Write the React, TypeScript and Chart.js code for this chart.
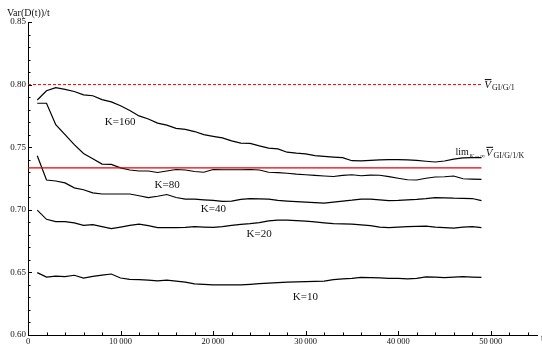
import React, { useEffect, useRef } from "react";
import { Chart, registerables } from "chart.js";

Chart.register(...registerables);

const times = [
  1000, 2000, 3000, 4000, 5000, 6000, 7000, 8000, 9000, 10000,
  11000, 12000, 13000, 14000, 15000, 16000, 17000, 18000, 19000, 20000,
  21000, 22000, 23000, 24000, 25000, 26000, 27000, 28000, 29000, 30000,
  31000, 32000, 33000, 34000, 35000, 36000, 37000, 38000, 39000, 40000,
  41000, 42000, 43000, 44000, 45000, 46000, 47000, 48000, 49000,
];

const k160 = [
  0.7877, 0.7951, 0.7975, 0.7962, 0.7945, 0.7918, 0.7911, 0.788, 0.7862, 0.7831,
  0.7793, 0.775, 0.7725, 0.7692, 0.7676, 0.7651, 0.7643, 0.7625, 0.76, 0.7587,
  0.7575, 0.755, 0.7532, 0.753, 0.751, 0.7493, 0.7486, 0.746, 0.7452, 0.7446,
  0.7432, 0.7426, 0.7421, 0.7417, 0.7392, 0.739, 0.7394, 0.7398, 0.74, 0.74,
  0.7398, 0.7395, 0.7388, 0.7382, 0.739, 0.7405, 0.7414, 0.7416, 0.7416,
];

const k80 = [
  0.7851, 0.7851, 0.768, 0.76, 0.752, 0.745, 0.7408, 0.7365, 0.7363, 0.7335,
  0.7318, 0.731, 0.731, 0.7298, 0.731, 0.7322, 0.7318, 0.7306, 0.73, 0.7322,
  0.732, 0.732, 0.732, 0.7322, 0.7318, 0.73, 0.7297, 0.7292, 0.7285, 0.728,
  0.7275, 0.727, 0.7266, 0.7275, 0.728, 0.7272, 0.7277, 0.7276, 0.7265, 0.7252,
  0.724, 0.7238, 0.7252, 0.7262, 0.7264, 0.727, 0.7248, 0.7245, 0.7243,
];

const k40 = [
  0.7432, 0.7238, 0.723, 0.7215, 0.7175, 0.716, 0.7135, 0.7126, 0.7126, 0.7126,
  0.7126, 0.7112, 0.7098, 0.7108, 0.7122, 0.7098, 0.7086, 0.7086, 0.708, 0.7075,
  0.7067, 0.707, 0.7083, 0.709, 0.7088, 0.7085, 0.7075, 0.707, 0.7066, 0.7062,
  0.7057, 0.7053, 0.7062, 0.707, 0.7077, 0.7086, 0.7085, 0.708, 0.7074, 0.7076,
  0.708, 0.7084, 0.709, 0.7098, 0.7096, 0.7093, 0.7092, 0.709, 0.7073,
];

const k20 = [
  0.6998, 0.6924, 0.6905, 0.6905, 0.6895, 0.6875, 0.6882, 0.6866, 0.685, 0.6862,
  0.6875, 0.6886, 0.6873, 0.6858, 0.6857, 0.6857, 0.686, 0.6865, 0.6862, 0.686,
  0.6866, 0.6876, 0.6884, 0.689, 0.6898, 0.6912, 0.6918, 0.6918, 0.6914, 0.691,
  0.6903, 0.6896, 0.689, 0.6887, 0.6885, 0.6879, 0.6873, 0.6862, 0.6858, 0.6862,
  0.6865, 0.6868, 0.687, 0.6862, 0.6857, 0.6853, 0.6862, 0.6865, 0.6857,
];

const k10 = [
  0.6498, 0.6463, 0.647, 0.6466, 0.6477, 0.6455, 0.6468, 0.6478, 0.6487, 0.6455,
  0.6445, 0.6442, 0.6439, 0.6432, 0.6438, 0.643, 0.6422, 0.6408, 0.6404, 0.64,
  0.64, 0.64, 0.64, 0.6405, 0.641, 0.6415, 0.6419, 0.6422, 0.6425, 0.6426,
  0.6428, 0.6431, 0.6443, 0.6448, 0.6453, 0.646, 0.6459, 0.6457, 0.6453, 0.6452,
  0.6449, 0.6453, 0.6464, 0.6462, 0.6458, 0.6463, 0.6466, 0.6463, 0.6461,
];

const vBar = 0.8; // V̄_GI/G/1
const vLim = 0.7335; // lim K->inf V̄_GI/G/1/K
const refLineEnd = 49000;

const xTicks = [0, 10000, 20000, 30000, 40000, 50000];
const xTickLabels = ["0", "10\u2009000", "20\u2009000", "30\u2009000", "40\u2009000", "50\u2009000"];
const yTicks = [0.6, 0.65, 0.7, 0.75, 0.8, 0.85];
const yTickLabels = ["0.60", "0.65", "0.70", "0.75", "0.80", "0.85"];

const curveLabels = ["K=160", "K=80", "K=40", "K=20", "K=10"];
const curveLabelX = [8300, 13680, 18680, 23620, 28620];
const curveLabelY = [0.7704, 0.7198, 0.7004, 0.6807, 0.6301];

const SERIF = "'Liberation Serif', 'Times New Roman', serif";
const RED = "rgb(230,0,0)";

const toXY = (ys: number[]) => ys.map((y, i) => ({ x: times[i], y }));

const decorPlugin = {
  id: "decor",
  afterDatasetsDraw(chart: any) {
    const ctx = chart.ctx as CanvasRenderingContext2D;
    const xs = chart.scales.x;
    const ys = chart.scales.y;
    const area = chart.chartArea;
    ctx.save();
    ctx.strokeStyle = "#000";
    ctx.lineWidth = 1;
    // inward ticks on x axis
    for (let v = 0; v <= 54000; v += 2000) {
      const px = Math.round(xs.getPixelForValue(v)) + 0.5;
      const len = v % 10000 === 0 ? 4 : 2.5;
      ctx.beginPath();
      ctx.moveTo(px, area.bottom);
      ctx.lineTo(px, area.bottom - len);
      ctx.stroke();
    }
    // inward ticks on y axis
    for (let i = 0; i <= 25; i++) {
      const v = 0.6 + i * 0.01;
      const py = Math.round(ys.getPixelForValue(v)) + 0.5;
      const len = i % 5 === 0 ? 4 : 2.5;
      ctx.beginPath();
      ctx.moveTo(area.left, py);
      ctx.lineTo(area.left + len, py);
      ctx.stroke();
    }

    ctx.fillStyle = "#111";
    ctx.textBaseline = "middle";
    ctx.textAlign = "left";
    // axis titles
    ctx.font = `10px ${SERIF}`;
    ctx.fillText("Var(D(t))/t", 7, 13);
    ctx.fillText("t", 541, 338);

    // curve labels
    ctx.font = `11px ${SERIF}`;
    curveLabels.forEach((lab, i) => {
      ctx.fillText(lab, xs.getPixelForValue(curveLabelX[i]), ys.getPixelForValue(curveLabelY[i]));
    });

    // V̄ with subscript
    const drawVbar = (x: number, y: number, sub: string) => {
      ctx.font = `italic 11px ${SERIF}`;
      ctx.fillText("V", x, y);
      const w = ctx.measureText("V").width;
      ctx.beginPath();
      ctx.moveTo(x + 0.5, y - 5.5);
      ctx.lineTo(x + w + 0.5, y - 5.5);
      ctx.stroke();
      ctx.font = `8px ${SERIF}`;
      ctx.fillText(sub, x + w + 1, y + 3);
    };
    drawVbar(xs.getPixelForValue(49300), ys.getPixelForValue(vBar) + 0.5, "GI/G/1");

    // lim label
    const lx = xs.getPixelForValue(46200);
    const ly = ys.getPixelForValue(0.7455);
    ctx.font = `10px ${SERIF}`;
    ctx.fillText("lim", lx, ly);
    const lw = ctx.measureText("lim").width;
    ctx.font = `italic 6.5px ${SERIF}`;
    ctx.fillText("K\u2192\u221E", lx + lw + 0.5, ly + 3.5);
    const kw = ctx.measureText("K\u2192\u221E").width;
    drawVbar(lx + lw + kw + 1.5, ly, "GI/G/1/K");
    ctx.restore();
  },
};

export default function App() {
  const ref = useRef<HTMLCanvasElement | null>(null);
  useEffect(() => {
    if (!ref.current) return;
    const black = (d: number[]) => ({
      data: toXY(d),
      borderColor: "#000",
      borderWidth: 1.2,
      pointRadius: 0,
      tension: 0,
      fill: false,
    });
    const chart = new Chart(ref.current, {
      type: "line",
      data: {
        datasets: [
          {
            data: [{ x: 0, y: vBar }, { x: refLineEnd, y: vBar }],
            borderColor: RED,
            borderWidth: 1,
            borderDash: [3, 2],
            pointRadius: 0,
          },
          {
            data: [{ x: 0, y: vLim }, { x: refLineEnd, y: vLim }],
            borderColor: RED,
            borderWidth: 1.2,
            pointRadius: 0,
          },
          black(k160),
          black(k80),
          black(k40),
          black(k20),
          black(k10),
        ] as any,
      },
      options: {
        animation: false,
        responsive: false,
        devicePixelRatio: 1,
        layout: { padding: { top: 22, right: 5, left: 0, bottom: 0 } },
        plugins: { legend: { display: false }, tooltip: { enabled: false }, title: { display: false } },
        scales: {
          x: {
            type: "linear",
            min: 0,
            max: 55000,
            afterFit: (s: any) => {
              s.height = 10;
            },
            afterBuildTicks: (s: any) => {
              s.ticks = xTicks.map((v) => ({ value: v }));
            },
            ticks: {
              callback: (_v: any, i: number) => xTickLabels[i],
              font: { family: SERIF, size: 8.5 },
              color: "#111",
              padding: 1.5,
              maxRotation: 0,
              autoSkip: false,
            },
            grid: { display: false, drawTicks: false },
            border: { display: true, color: "#000", width: 1 },
          },
          y: {
            type: "linear",
            min: 0.6,
            max: 0.85,
            afterFit: (s: any) => {
              s.width = 28;
            },
            afterBuildTicks: (s: any) => {
              s.ticks = yTicks.map((v) => ({ value: v }));
            },
            ticks: {
              callback: (_v: any, i: number) => yTickLabels[i],
              font: { family: SERIF, size: 9 },
              color: "#111",
              padding: 2,
              autoSkip: false,
            },
            grid: { display: false, drawTicks: false },
            border: { display: true, color: "#000", width: 1 },
          },
        },
      } as any,
      plugins: [decorPlugin],
    });
    return () => chart.destroy();
  }, []);
  return (
    <div style={{ position: "fixed", left: 0, top: 0, width: 542, height: 345, background: "#fff" }}>
      <canvas ref={ref} width={542} height={345} style={{ width: 542, height: 345, display: "block" }} />
    </div>
  );
}
